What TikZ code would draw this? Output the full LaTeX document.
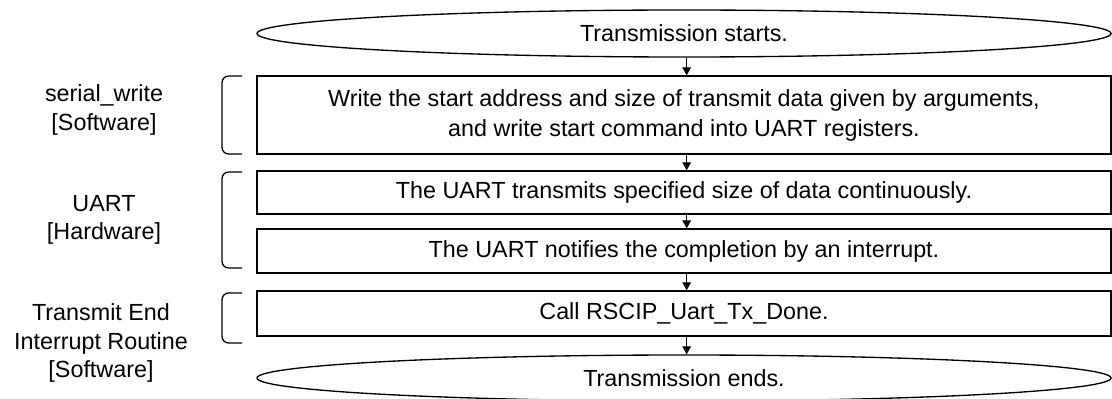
\documentclass[tikz,border=0pt]{standalone}
\usepackage{fontspec}
\setmainfont{Liberation Sans}
\usepackage{tikz}
\usetikzlibrary{arrows.meta, positioning, shapes.geometric, calc}

\tikzset{
  flowbox/.style={draw, line width=1pt, rectangle, minimum width=640.5pt,
                  inner sep=0pt, align=center},
  endcap/.style={draw, line width=1pt, ellipse, minimum width=640.5pt,
                 minimum height=35.25pt, inner sep=0pt},
  flowarrow/.style={-{Triangle[length=6pt, width=6.5pt]}, line width=0.9pt},
  sidelabel/.style={align=center, font=\fontsize{17.5}{21.5}\selectfont},
  brace/.style={line width=1pt, rounded corners=5pt}
}

\begin{document}
\begin{tikzpicture}[x=0.75pt, y=-0.75pt,
    font=\fontsize{17.5}{22.5}\selectfont]
      \useasboundingbox (0,0) rectangle (1112,399);

      % flow nodes
      \node[endcap] (start) at (684,33.5) {Transmission starts.};
      \node[flowbox, minimum height=58.5pt] (write) at (684,115)
            {Write the start address and size of transmit data given by arguments,\\
             and write start command into UART registers.};
      \node[flowbox, minimum height=32.25pt] (xmit) at (684,192.5)
            {The UART transmits specified size of data continuously.};
      \node[flowbox, minimum height=33pt] (notify) at (684,251)
            {The UART notifies the completion by an interrupt.};
      \node[flowbox, minimum height=33.75pt] (call) at (684,313.5)
            {Call RSCIP\_Uart\_Tx\_Done.};
      \node[endcap, minimum height=34.5pt] (stop) at (684,378) {Transmission ends.};

      \draw[flowarrow] ([xshift=2pt]start.south)  -- ([xshift=2pt]write.north);
      \draw[flowarrow] ([xshift=2pt]write.south)  -- ([xshift=2pt]xmit.north);
      \draw[flowarrow] ([xshift=2pt]xmit.south)   -- ([xshift=2pt]notify.north);
      \draw[flowarrow] ([xshift=2pt]notify.south) -- ([xshift=2pt]call.north);
      \draw[flowarrow] ([xshift=2pt]call.south)   -- ([xshift=2pt]stop.north);

      % side labels and their brackets
      \node[sidelabel] (lblwrite) at (104,110) {serial\_write\\ {[Software]}};
      \node[sidelabel] (lbluart) at (104,220) {UART\\ {[Hardware]}};
      \node[sidelabel] (lblisr) at (101,343)
            {Transmit End\\ Interrupt Routine\\ {[Software]}};

      \draw[brace] (242,76) -- (222,76) -- (222,154) -- (242,154);
      \draw[brace] (242,172) -- (222,172) -- (222,268) -- (242,268);
      \draw[brace] (242,293) -- (222,293) -- (222,343) -- (242,343);
\end{tikzpicture}
\end{document}
